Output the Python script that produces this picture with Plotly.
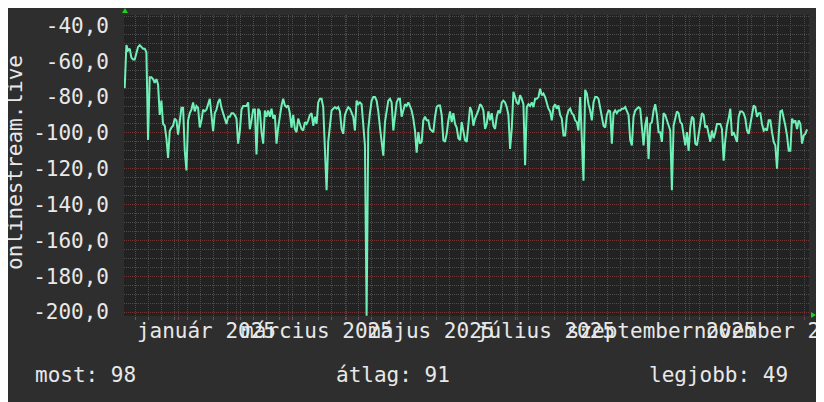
import pandas as pd
import plotly.graph_objects as go

# ---------------- data ----------------
series_name = "onlinestream.live"
start_time = "2024-12-03 09:00"
end_time = "2025-12-02 15:00"

values = [
    # Dec 2024 - Feb 2025
    -75, -51, -54, -53, -58, -59, -59, -55, -52, -51, -52, -53, -53, -55, -104, -69, -69, -70, -72, -70,
    -73, -90, -82, -95, -96, -103, -114, -99, -97, -96, -92, -93, -101, -92, -86, -86, -110, -121, -93, -89,
    -87, -83, -88, -85, -86, -97, -93, -87, -88, -87, -84, -81, -90, -99, -89, -87, -83, -81, -86, -89,
    -92, -95, -91, -91, -89, -89, -90, -92, -106, -99, -87, -85, -85, -85, -83, -98, -93, -87, -87,
    # Feb - Apr 2025
    -112, -86.5, -88, -99.6, -106, -87.5, -91, -87.5, -91, -86.5, -92, -90, -106, -97, -90, -84.7, -81, -84.7, -85.6, -84.7,
    -89, -97, -90, -97.8, -99.6, -92, -95, -97.8, -98.7, -94, -95, -93, -90, -89, -96, -91, -95, -83, -81, -81,
    -85.6, -107, -132, -105, -94, -87.5, -86.5, -85.6, -86.5, -85.6, -88, -97.8, -100.5, -90, -87.5, -85.6, -86.5, -89, -91, -98.7,
    -82, -84, -83, -84, -97, -107, -202, -98, -89, -82, -80, -80, -82, -88, -97, -105, -112.7, -94, -88, -82,
    -81, -83, -98.7, -89,
    # Apr - Jun 2025
    -83, -81, -81, -91, -87.5, -84, -85, -83, -85, -87.5, -92, -98.7, -111, -99.6, -106, -105, -93, -91, -93, -93,
    -97.8, -98.7, -99.6, -91, -85.6, -84.7, -84.7, -90, -104, -105, -100.5, -93, -88, -94, -89, -95, -97, -103, -104, -94,
    -98.7, -104, -105, -94, -85.6, -88, -96, -92, -90, -87.5, -84, -85, -87.5, -97.8, -95, -88, -93, -89, -96, -97.8,
    -91, -87.5, -89, -83, -82, -83, -85.6, -90, -109, -97.8, -77, -80, -83, -84, -79, -81, -84, -118, -85.6,
    # Jun - Aug 2025
    -84, -85, -83, -85.6, -81, -81, -80, -75.3, -79, -78, -80, -84, -86.5, -88, -93, -85.6, -84, -86.5, -84.7, -90,
    -92, -101.5, -101.5, -91, -87.5, -86.5, -89, -90, -93, -94, -98.7, -80, -101.5, -126.7, -76, -78, -84, -87.5, -93, -83,
    -80, -80, -81, -85.6, -91, -96, -97, -90, -87.5, -88, -106, -89, -87.5, -89, -87.5, -87.5, -86.5, -86.5, -85.6, -87.5,
    -90, -104, -107, -91, -87.5, -86.5, -85.6, -86.5, -97.8, -107, -96, -91, -114.6, -95, -94, -87.5, -84, -90, -99.6, -99.6,
    -105, -89,
    # Aug - Dec 2025
    -90, -93, -95, -98.7, -132, -96, -92, -88, -89, -94, -95, -101.5, -107, -99.6, -110, -97, -91, -92, -106, -107,
    -101.5, -96, -89, -90, -97, -96, -100.5, -105, -98.7, -103, -99.6, -95, -95, -95, -97.8, -115.5, -104, -96, -92, -86.5,
    -101.5, -99.6, -102.4, -105, -91, -88, -88, -89, -92, -98.7, -100.5, -95, -90, -84.7, -85.6, -91, -89, -89, -95, -98.7,
    -97.8, -98.7, -93, -93, -99.6, -105, -107, -120, -101.5, -88, -87.5, -91, -96, -101.5, -110, -110, -92, -94, -93, -97.8,
    -93, -95, -106, -101.5, -100.5, -98,
]

y_tick_vals = [-40, -60, -80, -100, -120, -140, -160, -180, -200]
y_tick_text = ["-40,0", "-60,0", "-80,0", "-100,0", "-120,0", "-140,0", "-160,0", "-180,0", "-200,0"]

month_label_dates = ["2025-01-16", "2025-03-16", "2025-05-16", "2025-07-16", "2025-09-16", "2025-11-16"]
month_label_text = ["január 2025", "március 2025", "május 2025", "július 2025", "szeptember 2025", "november 2025"]

summary_labels = ["most: 98", "átlag: 91", "legjobb: 49"]

# ---------------- figure ----------------
FONT = "DejaVu Sans Mono"
TXT = "#e8e8e8"
MAJOR = "#743434"
MINOR = "#4c4c4c"
x_range = ["2024-12-03 00:00", "2025-12-03 16:00"]
y_range = [-202.2, -34.2]

# the page puts the figure 8px in from the top-left corner
OFF = 8
PL, PT, PR, PB = 124 - OFF, 15 - OFF, 15, 86  # plot box in page pixels: 124..809, 15..316
W, H = 824 - OFF, 402 - OFF
PW = W - PL - PR


def px_x(page_x):
    return (page_x - OFF - PL) / PW


def px_y(page_y):
    return (H - PB - (page_y - OFF)) / (H - PT - PB)


times = pd.date_range(start_time, end_time, periods=len(values))
month_starts = pd.date_range("2025-01-01", "2025-12-01", freq="MS")
week_starts = pd.date_range("2024-12-09", "2025-12-03", freq="7D")

fig = go.Figure()
fig.add_trace(go.Scatter(
    x=times, y=values, mode="lines", name=series_name,
    line=dict(color="#6ff0b6", width=2), showlegend=False,
))
fig.add_trace(go.Scatter(
    x=[times[0], times[-1]], y=[None, None], xaxis="x2", mode="lines",
    showlegend=False, hoverinfo="skip",
))

fig.update_layout(
    width=W, height=H,
    margin=dict(l=PL, r=PR, t=PT, b=PB, autoexpand=False),
    paper_bgcolor="#2e2e2e",
    plot_bgcolor="#222222",
    font=dict(family=FONT, size=21, color=TXT),
    xaxis=dict(
        type="date", range=x_range, automargin=False,
        tickmode="array", tickvals=month_label_dates, ticktext=month_label_text,
        tickangle=0, ticklabeloverflow="allow",
        showgrid=False, zeroline=False, ticks="",
        tickfont=dict(family=FONT, size=21, color=TXT),
        minor=dict(tickmode="array", tickvals=list(week_starts), showgrid=True,
                   gridcolor=MINOR, griddash="1px,1px", gridwidth=1,
                   ticks="outside", ticklen=3, tickcolor="#5a5a5a"),
    ),
    xaxis2=dict(
        type="date", range=x_range, overlaying="x", side="bottom", automargin=False,
        tickmode="array", tickvals=list(month_starts), showticklabels=False,
        showgrid=True, gridcolor=MAJOR, griddash="1px,1px", gridwidth=1,
        ticks="outside", ticklen=3, tickcolor="#803838", zeroline=False,
    ),
    yaxis=dict(
        range=y_range, tickmode="array", tickvals=y_tick_vals, ticktext=y_tick_text,
        automargin=False,
        showgrid=True, gridcolor=MAJOR, griddash="1px,1px", gridwidth=1,
        zeroline=False, ticks="", ticklabelstandoff=14,
        tickfont=dict(family=FONT, size=21, color=TXT),
        minor=dict(dtick=5, tick0=0, showgrid=True, gridcolor=MINOR,
                   griddash="1px,1px", gridwidth=1),
    ),
    shapes=[
        dict(type="path", xref="paper", yref="paper", xsizemode="pixel", ysizemode="pixel",
             xanchor=0, yanchor=1, path="M -2,2 L 4,2 L 1,7 Z",
             fillcolor="#1ed21e", line=dict(width=0)),
        dict(type="path", xref="paper", yref="paper", xsizemode="pixel", ysizemode="pixel",
             xanchor=1, yanchor=0, path="M 2,-2 L 2,4 L 7,1 Z",
             fillcolor="#1ed21e", line=dict(width=0)),
    ],
    annotations=[
        dict(text=series_name, xref="paper", yref="paper", x=px_x(15), y=px_y(162),
             textangle=-90, showarrow=False, xanchor="center", yanchor="middle",
             font=dict(family=FONT, size=21, color=TXT)),
        dict(text=summary_labels[0], xref="paper", yref="paper", x=px_x(33), y=px_y(375),
             showarrow=False, xanchor="left", yanchor="middle",
             font=dict(family=FONT, size=21, color=TXT)),
        dict(text=summary_labels[1], xref="paper", yref="paper", x=px_x(393), y=px_y(375),
             showarrow=False, xanchor="center", yanchor="middle",
             font=dict(family=FONT, size=21, color=TXT)),
        dict(text=summary_labels[2], xref="paper", yref="paper", x=px_x(790), y=px_y(375),
             showarrow=False, xanchor="right", yanchor="middle",
             font=dict(family=FONT, size=21, color=TXT)),
    ],
)

fig.write_html("out.html")
